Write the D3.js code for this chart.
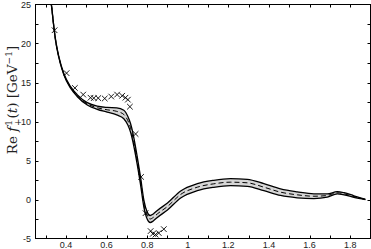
<!DOCTYPE html>
<html><head><meta charset="utf-8">
<script src="https://cdn.jsdelivr.net/npm/d3@7"></script>
<style>body{margin:0;background:#fff}svg{display:block}</style>
</head><body>
<svg id="c" width="371" height="249"></svg>
<script>
// ---- data ----
const tGrid   = [0.322,0.33,0.337,0.349,0.365,0.389,0.422,0.455,0.505,0.554,0.603,0.65,0.685,0.705,0.718,0.726,0.751,0.767,0.784,0.80,0.815,0.83,0.85,0.90,0.965,1.047,1.128,1.21,1.293,1.375,1.457,1.539,1.621,1.687,1.736,1.77,1.818,1.875];
const centre  = [26.0,24.6,22.9,20.4,18.25,16.1,14.4,13.33,12.27,11.76,11.5,11.3,10.9,10.1,9.2,8.4,5.0,2.44,-0.55,-2.05,-2.5,-2.3,-1.85,-0.9,0.65,1.58,2.01,2.22,2.14,1.58,0.94,0.6,0.42,0.51,0.86,0.73,0.38,0.0];
const halfErr = [0.05,0.05,0.05,0.06,0.07,0.08,0.1,0.12,0.15,0.2,0.3,0.45,0.55,0.55,0.55,0.55,0.5,0.48,0.45,0.45,0.45,0.45,0.45,0.45,0.45,0.45,0.45,0.45,0.45,0.45,0.42,0.38,0.3,0.2,0.15,0.14,0.1,0.0];
const dataT = [0.344,0.403,0.444,0.485,0.521,0.537,0.559,0.591,0.623,0.652,0.677,0.693,0.705,0.715,0.743,0.77,0.792,0.817,0.828,0.841,0.857,0.882];
const dataV = [21.7,16.2,14.3,13.45,13.05,13.0,13.0,12.95,13.2,13.45,13.3,13.05,12.8,11.9,8.4,2.9,-1.75,-4.05,-4.4,-4.5,-4.3,-3.8];
const xTickLabels = [0.4,0.6,0.8,1,1.2,1.4,1.6,1.8];
const yTickLabels = [-5,0,5,10,15,20,25];
const xMinor = [0.3,0.4,0.5,0.6,0.7,0.8,0.9,1.0,1.1,1.2,1.3,1.4,1.5,1.6,1.7,1.8];
const yMinor = [-2.5,0,2.5,5,7.5,10,12.5,15,17.5,20,22.5];

const svg = d3.select('#c');
const L=35.5, R=370.5, T=4.5, B=238.5;
const x = d3.scaleLinear().domain([0.25,1.9]).range([L,R]);
const y = d3.scaleLinear().domain([-5,25]).range([B,T]);

svg.append('clipPath').attr('id','clip').append('rect')
  .attr('x',L).attr('y',T).attr('width',R-L).attr('height',B-T);

const pts = tGrid.map((t,i)=>({t, c:centre[i], lo:centre[i]-halfErr[i], hi:centre[i]+halfErr[i]}));
const g = svg.append('g').attr('clip-path','url(#clip)');
const curve = d3.curveMonotoneX;
g.append('path').datum(pts)
  .attr('d', d3.area().x(d=>x(d.t)).y0(d=>y(d.lo)).y1(d=>y(d.hi)).curve(curve))
  .attr('fill','#d6d6d6').attr('stroke','none');
['lo','hi'].forEach(k=>{
  g.append('path').datum(pts)
   .attr('d', d3.line().x(d=>x(d.t)).y(d=>y(d[k])).curve(curve))
   .attr('fill','none').attr('stroke','#000').attr('stroke-width',1.3);
});
g.append('path').datum(pts)
  .attr('d', d3.line().x(d=>x(d.t)).y(d=>y(d.c)).curve(curve))
  .attr('fill','none').attr('stroke','#000').attr('stroke-width',1).attr('stroke-dasharray','5,3');

// crosses
const s=2.8;
dataT.forEach((t,i)=>{
  const cx=x(t), cy=y(dataV[i]);
  g.append('path').attr('d',`M${cx-s},${cy-s}L${cx+s},${cy+s}M${cx-s},${cy+s}L${cx+s},${cy-s}`)
   .attr('stroke','#000').attr('stroke-width',0.9).attr('fill','none');
});

// frame
svg.append('rect').attr('x',L).attr('y',T).attr('width',R-L).attr('height',B-T)
  .attr('fill','none').attr('stroke','#000').attr('stroke-width',1);

// ticks (inward, all four sides)
const tk=3, ax=svg.append('g').attr('stroke','#000').attr('stroke-width',1);
xMinor.forEach(v=>{
  const px=Math.round(x(v))+0.5;
  ax.append('line').attr('x1',px).attr('x2',px).attr('y1',B).attr('y2',B-tk);
  ax.append('line').attr('x1',px).attr('x2',px).attr('y1',T).attr('y2',T+tk);
});
yMinor.forEach(v=>{
  const py=Math.round(y(v))+0.5;
  ax.append('line').attr('y1',py).attr('y2',py).attr('x1',L).attr('x2',L+tk);
  ax.append('line').attr('y1',py).attr('y2',py).attr('x1',R).attr('x2',R-tk);
});

// tick labels
const lab = svg.append('g').attr('font-family','Liberation Sans, Arial, sans-serif')
  .attr('font-size',9).attr('fill','#222');
xTickLabels.forEach(v=>{
  lab.append('text').attr('x',x(v)).attr('y',247.5).attr('text-anchor','middle').text(d3.format('')(v));
});
yTickLabels.forEach(v=>{
  lab.append('text').attr('x',31).attr('y',y(v)+3.2).attr('text-anchor','end').text(v);
});

// y-axis title
const yt = svg.append('text').attr('transform','translate(17,100) rotate(-90)')
  .attr('text-anchor','middle').attr('font-family','DejaVu Serif, Liberation Serif, serif')
  .attr('font-size',13.5).attr('fill','#222');
yt.append('tspan').text('Re ');
yt.append('tspan').attr('font-style','italic').text('f');
yt.append('tspan').attr('font-size',9).attr('dy',-5).attr('dx',1).text('1');
yt.append('tspan').attr('font-size',9).attr('dy',9).attr('dx',-6).text('+');
yt.append('tspan').attr('dy',-4).text('(');
yt.append('tspan').attr('font-style','italic').text('t');
yt.append('tspan').text(') [GeV');
yt.append('tspan').attr('font-size',9).attr('dy',-5).text('−1');
yt.append('tspan').attr('dy',5).text(']');
</script>
</body></html>
